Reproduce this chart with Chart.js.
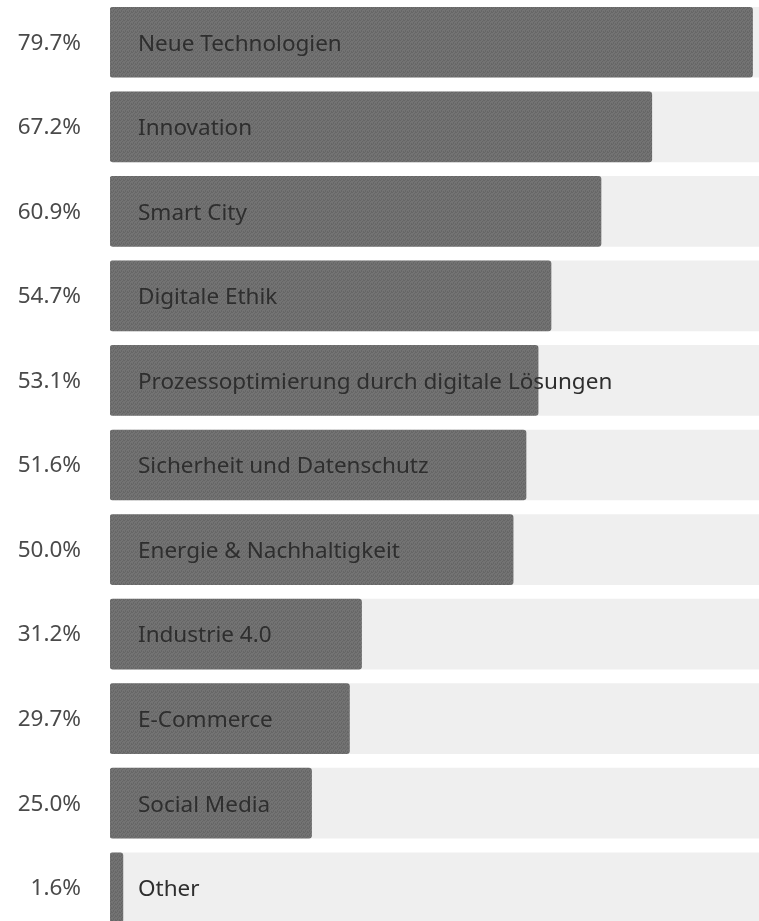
<!DOCTYPE html>
<html>
<head>
<meta charset="utf-8">
<script src="https://cdn.jsdelivr.net/npm/chart.js@4.4.0/dist/chart.umd.min.js"></script>
<style>
  html, body { margin: 0; padding: 0; background: #fff; overflow: hidden; }
  canvas { display: block; }
</style>
</head>
<body>
<canvas id="topics" width="759" height="930"></canvas>
<script>
// categories and their shares (percent of respondents)
let categories = [
  "Neue Technologien",
  "Innovation",
  "Smart City",
  "Digitale Ethik",
  "Prozessoptimierung durch digitale Lösungen",
  "Sicherheit und Datenschutz",
  "Energie & Nachhaltigkeit",
  "Industrie 4.0",
  "E-Commerce",
  "Social Media",
  "Other"
];
let shares = [79.7, 67.2, 60.9, 54.7, 53.1, 51.6, 50.0, 31.2, 29.7, 25.0, 1.6];
let fullTrack = categories.map(() => 100);

// dithered grey fill like the original bars
function makePattern() {
  let tile = document.createElement("canvas");
  tile.width = 4;
  tile.height = 4;
  let t = tile.getContext("2d");
  t.fillStyle = "#737373";
  t.fillRect(0, 0, 4, 4);
  t.fillStyle = "#666666";
  t.fillRect(0, 0, 1, 1);
  t.fillRect(2, 1, 1, 1);
  t.fillRect(1, 2, 1, 1);
  t.fillRect(3, 3, 1, 1);
  t.fillRect(3, 0, 1, 1);
  t.fillRect(1, 3, 1, 1);
  return t.createPattern(tile, "repeat");
}

// category names written inside the bars
let innerLabels = {
  id: "innerLabels",
  afterDatasetsDraw(chart) {
    let ctx = chart.ctx;
    let meta = chart.getDatasetMeta(0);
    ctx.save();
    ctx.font = "22.5px 'Noto Sans'";
    ctx.fillStyle = "#2e2e2e";
    ctx.textBaseline = "middle";
    ctx.textAlign = "left";
    meta.data.forEach((bar, i) => {
      ctx.fillText(categories[i], bar.base + 28, bar.y + 2);
    });
    ctx.restore();
  }
};

let ctx = document.getElementById("topics");
let chart = new Chart(ctx, {
  type: "bar",
  data: {
    labels: categories,
    datasets: [
      {
        data: shares,
        backgroundColor: makePattern(),
        borderRadius: 3,
        borderSkipped: false,
        barThickness: 70,
        grouped: false,
        order: 0
      },
      {
        data: fullTrack,
        backgroundColor: "#efefef",
        borderRadius: 3,
        borderSkipped: false,
        barThickness: 70,
        grouped: false,
        order: 1
      }
    ]
  },
  options: {
    indexAxis: "y",
    responsive: false,
    animation: false,
    layout: { padding: 0 },
    plugins: {
      legend: { display: false },
      tooltip: { enabled: false }
    },
    scales: {
      x: {
        display: false,
        min: 0,
        max: 80.5
      },
      y: {
        grid: { display: false, drawTicks: false },
        border: { display: false },
        afterFit(axis) {
          axis.width = 110;
          // no extra room above the first / below the last label
          axis.paddingTop = 0;
          axis.paddingBottom = 0;
        },
        ticks: {
          padding: 29,
          labelOffset: 1,
          color: "#4a4a4a",
          font: { family: "Noto Sans", size: 22.5 },
          callback: (v, i) => shares[i].toFixed(1) + "%"
        }
      }
    }
  },
  plugins: [innerLabels]
});
</script>
</body>
</html>
